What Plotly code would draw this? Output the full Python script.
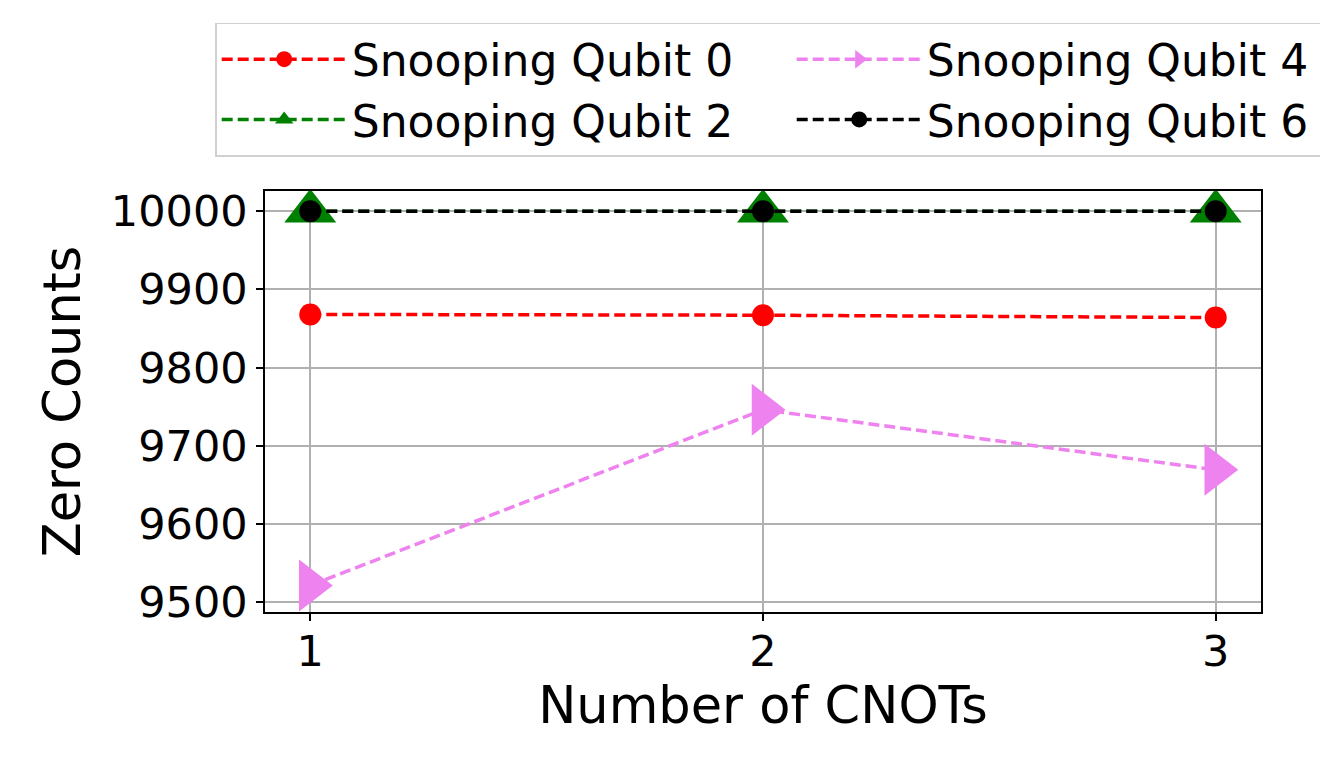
import plotly.graph_objects as go

cnots = [1, 2, 3]
q0 = [9868, 9867, 9864]
q2 = [10000, 10000, 10000]
q4 = [9521, 9746, 9669]
q6 = [10000, 10000, 10000]
yticks = [9500, 9600, 9700, 9800, 9900, 10000]

FONT = "DejaVu Sans"
dash = "11px,5px"
LW = 3.5

fig = go.Figure()
fig.add_trace(go.Scatter(x=cnots, y=q0, name="Snooping Qubit 0", mode="lines+markers",
                         line=dict(color="red", width=LW, dash=dash),
                         marker=dict(symbol="circle", size=22, color="red")))
fig.add_trace(go.Scatter(x=cnots, y=q4, name="Snooping Qubit 4", mode="lines+markers",
                         line=dict(color="violet", width=LW, dash=dash),
                         marker=dict(symbol="triangle-right", size=45, color="violet")))
fig.add_trace(go.Scatter(x=cnots, y=q2, name="Snooping Qubit 2", mode="lines+markers",
                         line=dict(color="green", width=LW, dash=dash),
                         marker=dict(symbol="triangle-up", size=45, color="green")))
fig.add_trace(go.Scatter(x=cnots, y=q6, name="Snooping Qubit 6", mode="lines+markers",
                         line=dict(color="black", width=LW, dash=dash),
                         marker=dict(symbol="circle", size=22, color="black")))

fig.update_layout(
    width=1328, height=766,
    paper_bgcolor="white", plot_bgcolor="white",
    margin=dict(l=257, r=75, t=183, b=162, autoexpand=False),
    font=dict(family=FONT, size=43, color="black"),
    legend=dict(orientation="h", x=-0.05, xanchor="left", y=1.40, yanchor="top",
                bordercolor="#d0d0d0", borderwidth=1.5, bgcolor="white",
                itemwidth=125, entrywidth=435, entrywidthmode="pixels", traceorder="normal",
                font=dict(size=44, family=FONT)),
    showlegend=True,
)
fig.update_xaxes(range=[0.9, 3.1], tickvals=cnots, ticktext=[str(c) for c in cnots],
                 showgrid=True, gridcolor="#b0b0b0", gridwidth=1.5,
                 showline=True, linecolor="black", linewidth=1.5, mirror=True,
                 ticks="outside", ticklen=7, tickwidth=1.5, tickcolor="black",
                 zeroline=False, automargin=False, ticklabelstandoff=-6,
                 title=dict(text="Number of CNOTs", font=dict(size=51, family=FONT), standoff=2))
fig.update_yaxes(range=[9487, 10026], tickvals=yticks, ticktext=[str(v) for v in yticks],
                 showgrid=True, gridcolor="#b0b0b0", gridwidth=1.5,
                 showline=True, linecolor="black", linewidth=1.5, mirror=True,
                 ticks="outside", ticklen=7, tickwidth=1.5, tickcolor="black",
                 zeroline=False, automargin=False,
                 title=dict(text="Zero Counts", font=dict(size=51, family=FONT), standoff=14))

fig.write_html("out.html")
